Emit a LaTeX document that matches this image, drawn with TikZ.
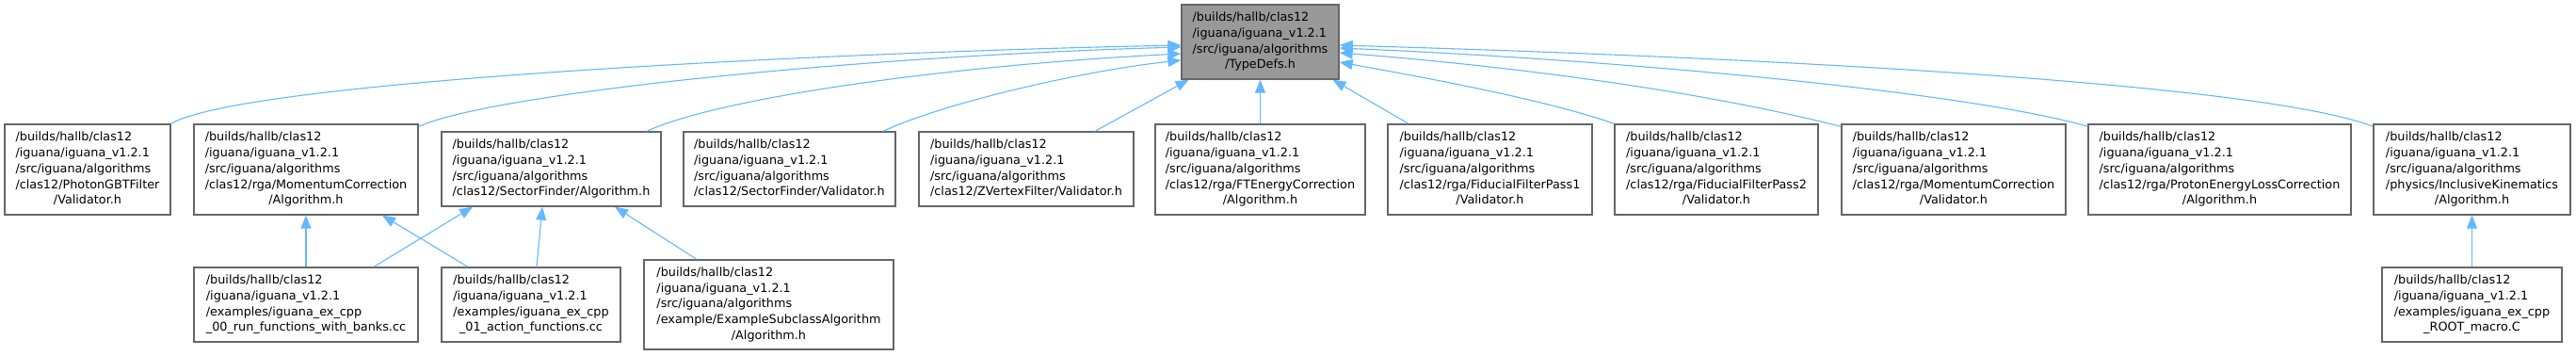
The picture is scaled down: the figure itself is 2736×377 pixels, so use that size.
\documentclass[tikz,border=0pt]{standalone}
\usepackage{fontspec}
\setmainfont{DejaVu Sans}
\usetikzlibrary{arrows.meta}
\definecolor{edgecol}{HTML}{63B8FF}
\definecolor{boxborder}{HTML}{666666}
\definecolor{topfill}{HTML}{999999}
\newcommand{\flab}[2]{\begin{tabular}{@{}l@{}}#1\\\multicolumn{1}{@{}c@{}}{#2}\end{tabular}}
\newcommand{\plab}[1]{\begin{tabular}{@{}l@{}}#1\end{tabular}}
\begin{document}
\begin{tikzpicture}[x=1bp,y=-1bp,
  box/.style={draw=boxborder, line width=1.3bp, fill=white, inner sep=0pt,
    font=\fontsize{12.8bp}{16.7bp}\selectfont},
  edge/.style={draw=edgecol, line width=1.1bp, -{Triangle[length=14bp,width=11bp]}}]
\useasboundingbox (0,0) rectangle (2736,377);
% top node
\node[box, fill=topfill, minimum width=167bp, minimum height=79bp] (T) at (1338.5,44.5)
  {\flab{/builds/hallb/clas12\\/iguana/iguana\_v1.2.1\\/src/iguana/algorithms}{/TypeDefs.h}};
% middle row
\node[box, minimum width=176bp, minimum height=96bp] (A) at (93,180)
  {\flab{/builds/hallb/clas12\\/iguana/iguana\_v1.2.1\\/src/iguana/algorithms\\/clas12/PhotonGBTFilter}{/Validator.h}};
\node[box, minimum width=238bp, minimum height=96bp] (B) at (325,180)
  {\flab{/builds/hallb/clas12\\/iguana/iguana\_v1.2.1\\/src/iguana/algorithms\\/clas12/rga/MomentumCorrection}{/Algorithm.h}};
\node[box, minimum width=233bp, minimum height=79bp] (C) at (585.5,179.5)
  {\plab{/builds/hallb/clas12\\/iguana/iguana\_v1.2.1\\/src/iguana/algorithms\\/clas12/SectorFinder/Algorithm.h}};
\node[box, minimum width=225bp, minimum height=79bp] (D) at (838.5,179.5)
  {\plab{/builds/hallb/clas12\\/iguana/iguana\_v1.2.1\\/src/iguana/algorithms\\/clas12/SectorFinder/Validator.h}};
\node[box, minimum width=228bp, minimum height=79bp] (E) at (1090,179.5)
  {\plab{/builds/hallb/clas12\\/iguana/iguana\_v1.2.1\\/src/iguana/algorithms\\/clas12/ZVertexFilter/Validator.h}};
\node[box, minimum width=223bp, minimum height=96bp] (F) at (1338.5,180)
  {\flab{/builds/hallb/clas12\\/iguana/iguana\_v1.2.1\\/src/iguana/algorithms\\/clas12/rga/FTEnergyCorrection}{/Algorithm.h}};
\node[box, minimum width=217bp, minimum height=96bp] (G) at (1582.5,180)
  {\flab{/builds/hallb/clas12\\/iguana/iguana\_v1.2.1\\/src/iguana/algorithms\\/clas12/rga/FiducialFilterPass1}{/Validator.h}};
\node[box, minimum width=216bp, minimum height=96bp] (H) at (1823,180)
  {\flab{/builds/hallb/clas12\\/iguana/iguana\_v1.2.1\\/src/iguana/algorithms\\/clas12/rga/FiducialFilterPass2}{/Validator.h}};
\node[box, minimum width=238bp, minimum height=96bp] (I) at (2075,180)
  {\flab{/builds/hallb/clas12\\/iguana/iguana\_v1.2.1\\/src/iguana/algorithms\\/clas12/rga/MomentumCorrection}{/Validator.h}};
\node[box, minimum width=279bp, minimum height=96bp] (J) at (2357.5,180)
  {\flab{/builds/hallb/clas12\\/iguana/iguana\_v1.2.1\\/src/iguana/algorithms\\/clas12/rga/ProtonEnergyLossCorrection}{/Algorithm.h}};
\node[box, minimum width=209bp, minimum height=96bp] (K) at (2625.5,180)
  {\flab{/builds/hallb/clas12\\/iguana/iguana\_v1.2.1\\/src/iguana/algorithms\\/physics/InclusiveKinematics}{/Algorithm.h}};
% bottom row
\node[box, minimum width=238bp, minimum height=79bp] (M) at (325,323.5)
  {\flab{/builds/hallb/clas12\\/iguana/iguana\_v1.2.1\\/examples/iguana\_ex\_cpp}{\_00\_run\_functions\_with\_banks.cc}};
\node[box, minimum width=190bp, minimum height=79bp] (N) at (564,323.5)
  {\flab{/builds/hallb/clas12\\/iguana/iguana\_v1.2.1\\/examples/iguana\_ex\_cpp}{\_01\_action\_functions.cc}};
\node[box, minimum width=265bp, minimum height=95bp] (O) at (816.5,323.5)
  {\flab{/builds/hallb/clas12\\/iguana/iguana\_v1.2.1\\/src/iguana/algorithms\\/example/ExampleSubclassAlgorithm}{/Algorithm.h}};
\node[box, minimum width=191bp, minimum height=79bp] (L) at (2625.5,323.5)
  {\flab{/builds/hallb/clas12\\/iguana/iguana\_v1.2.1\\/examples/iguana\_ex\_cpp}{\_ROOT\_macro.C}};
% edges to TypeDefs.h
\draw[edge] (A.north east) .. controls (260,85) and (900,55) .. ([yshift=-3.5bp]T.west);
\draw[edge] ([yshift=-3bp]B.north east) .. controls (520,100) and (900,60) .. ([yshift=-5.5bp]T.west);
\draw[edge] ([xshift=101.5bp]C.north) .. controls (760,105) and (1000,70) .. ([yshift=-12.5bp]T.west);
\draw[edge] ([xshift=99.5bp]D.north) .. controls (1000,110) and (1150,75) .. ([yshift=-19.5bp]T.west);
\draw[edge] ([xshift=73bp]E.north) -- ([xshift=-76bp]T.south);
\draw[edge] (F) -- (T);
\draw[edge] ([xshift=-86.5bp]G.north) -- ([xshift=77bp]T.south);
\draw[edge] (H.north west) .. controls (1640,105) and (1500,80) .. ([yshift=-21.5bp]T.east);
\draw[edge] ([yshift=-3bp]I.north west) .. controls (1800,95) and (1600,70) .. ([yshift=-11.5bp]T.east);
\draw[edge] ([yshift=-3bp]J.north west) .. controls (2100,100) and (1750,65) .. ([yshift=-6.5bp]T.east);
\draw[edge] ([yshift=-3bp]K.north west) .. controls (2420,95) and (2000,65) .. ([yshift=-3.5bp]T.east);
% lower edges
\draw[edge] (M) -- (B);
\draw[edge] ([xshift=72bp]M.north) -- ([xshift=-83.5bp]C.south);
\draw[edge] ([xshift=-67bp]N.north) -- ([xshift=81bp]B.south);
\draw[edge] ([xshift=6bp]N.north) -- ([xshift=-9.5bp]C.south);
\draw[edge] ([xshift=-76.5bp]O.north) -- ([xshift=67.5bp]C.south);
\draw[edge] (L) -- (K);
\end{tikzpicture}
\end{document}
